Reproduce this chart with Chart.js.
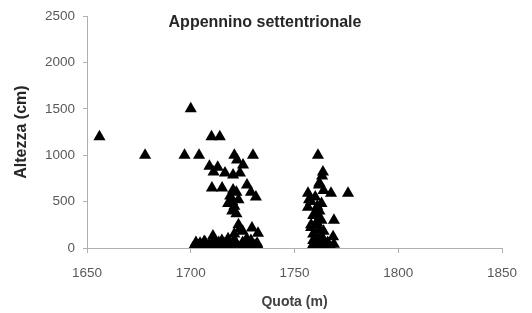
<!DOCTYPE html>
<html>
<head>
<meta charset="utf-8">
<script src="https://cdn.jsdelivr.net/npm/chart.js@4/dist/chart.umd.min.js"></script>
<style>
  html, body { margin: 0; padding: 0; background: #ffffff; }
  #wrap { width: 532px; height: 313px; }
</style>
</head>
<body>
<div id="wrap"><canvas id="c" width="532" height="313"></canvas></div>
<script>
const chartTitle = "Appennino settentrionale";
const xTitle = "Quota (m)";
const yTitle = "Altezza (cm)";
const xTicks = [1650, 1700, 1750, 1800, 1850];
const yTicks = [0, 500, 1000, 1500, 2000, 2500];

const quota = [
  1656, 1678, 1697, 1700, 1704, 1710, 1714, 1721, 1730,
  1709, 1713, 1711, 1716.5, 1722.3, 1723.7, 1720.4, 1725.2,
  1710.2, 1715.1, 1720.4, 1727.1, 1729, 1731.4,
  1719, 1720, 1721, 1720, 1722, 1723, 1718, 1722,
  1710.7, 1723.7, 1723, 1721, 1725, 1729.5, 1732.4, 1727, 1707, 1715, 1718,
  1701, 1702, 1703, 1704, 1705, 1706, 1707, 1708, 1709, 1710, 1712, 1713,
  1714, 1716, 1717, 1719, 1720, 1722, 1724, 1726, 1728, 1730, 1731, 1733,
  1702.5, 1704.5, 1706.5, 1709, 1711.5, 1713.5, 1716, 1718, 1721, 1725, 1727, 1729, 1732,
  1761.3, 1763.7, 1763.3, 1761.8, 1756.5, 1767.6, 1775.8, 1756.5, 1769, 1768.6,
  1758, 1760, 1761, 1762, 1759, 1763, 1760, 1762, 1759, 1761, 1763, 1764, 1758,
  1758, 1759, 1760, 1762, 1763, 1765, 1766, 1768, 1769, 1764, 1761,
  1757, 1760, 1762, 1764, 1758, 1761, 1763, 1766, 1759, 1762
];
const altezza = [
  1200, 1000, 1000, 1500, 1000, 1200, 1200, 1000, 1000,
  880, 870, 820, 808, 948, 808, 787, 894,
  647, 647, 625, 680, 600, 550,
  560, 500, 450, 400, 370, 520, 480, 600,
  130, 205, 250, 150, 180, 215, 160, 100, 60, 80, 100,
  0, 20, 0, 30, 0, 10, 40, 0, 20, 30, 10, 40,
  0, 20, 0, 30, 10, 40, 0, 20, 10, 0, 30, 0,
  60, 50, 70, 40, 80, 60, 50, 70, 90, 60, 40, 80, 50,
  1000, 820, 775, 680, 590, 590, 590, 440, 300, 120,
  500, 550, 450, 400, 350, 300, 250, 200, 150, 100, 480, 620, 250,
  0, 20, 0, 10, 0, 30, 0, 0, 40, 60, 50,
  520, 380, 320, 180, 220, 270, 130, 60, 80, 700
];

const points = quota.map((q, i) => ({ x: q, y: altezza[i] }));

const fontFam = "'Liberation Sans', Arial, sans-serif";
const axisColor = '#b0b0b0';
const tickColor = '#595959';

new Chart(document.getElementById('c'), {
  type: 'scatter',
  data: {
    datasets: [{
      data: points,
      pointStyle: 'triangle',
      pointRadius: 7,
      pointHoverRadius: 7,
      backgroundColor: '#000000',
      borderColor: '#000000',
      borderWidth: 0
    }]
  },
  options: {
    responsive: false,
    animation: false,
    layout: { padding: { left: 28, right: 30, top: 0, bottom: 0 } },
    plugins: {
      legend: { display: false },
      tooltip: { enabled: false },
      title: {
        display: true,
        text: chartTitle,
        color: '#262626',
        fullSize: true,
        font: { family: fontFam, size: 16, weight: 'bold' },
        padding: { top: 12.8, bottom: -16 }
      }
    },
    scales: {
      x: {
        type: 'linear',
        min: 1650, max: 1850,
        afterBuildTicks: (s) => { s.ticks = xTicks.map(v => ({ value: v })); },
        afterFit: (s) => { s.height = 65; },
        border: { display: true, color: axisColor, width: 1 },
        grid: { display: true, drawOnChartArea: false, drawTicks: true, tickLength: 5, color: axisColor },
        ticks: { color: tickColor, font: { family: fontFam, size: 13.5 }, padding: 12, maxRotation: 0,
                 callback: (v) => String(v) },
        title: {
          display: true, text: xTitle, color: '#404040',
          font: { family: fontFam, size: 14, weight: 'bold' },
          padding: { top: 0, bottom: 2.6 }
        }
      },
      y: {
        type: 'linear',
        min: 0, max: 2500,
        afterBuildTicks: (s) => { s.ticks = yTicks.map(v => ({ value: v })); },
        afterFit: (s) => { s.width = 59; },
        border: { display: true, color: axisColor, width: 1 },
        grid: { display: true, drawOnChartArea: false, drawTicks: true, tickLength: 4, color: axisColor },
        ticks: { color: tickColor, font: { family: fontFam, size: 13.5 }, padding: 8,
                 callback: (v) => String(v) },
        title: {
          display: true, text: yTitle, color: '#262626',
          font: { family: fontFam, size: 16, weight: 'bold' },
          padding: { top: -15.6, bottom: 0 }
        }
      }
    }
  }
});
</script>
</body>
</html>
